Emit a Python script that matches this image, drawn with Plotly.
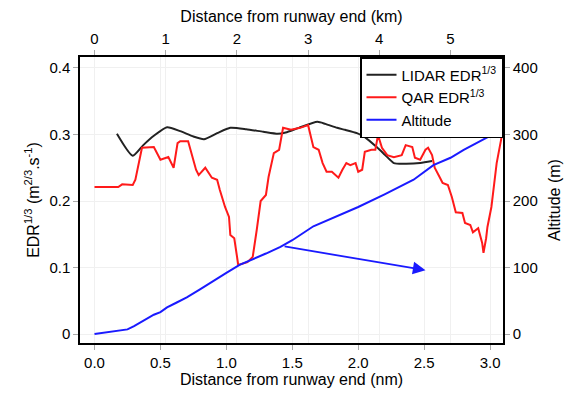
import plotly.graph_objects as go

# ---- data ----
alt_nm = [0.0, 0.1, 0.25, 0.3, 0.35, 0.4, 0.45, 0.5, 0.55, 0.62, 0.7, 0.8, 0.9, 1.0, 1.1, 1.2, 1.3, 1.41,
          1.5, 1.66, 1.8, 2.0, 2.2, 2.42, 2.57, 2.7, 2.8, 2.9, 3.0]
alt_m = [0, 3, 7, 12, 18, 24, 29, 33, 40, 47, 55, 67, 80, 92, 104, 112, 121, 131,
         141, 162, 174, 191, 210, 232, 254, 265, 277, 288, 298]

lidar_nm = [0.17, 0.29, 0.37, 0.45, 0.55, 0.65, 0.75, 0.83, 0.93, 1.03, 1.15, 1.28, 1.39, 1.45, 1.55,
            1.69, 1.75, 1.84, 1.9, 1.99, 2.05, 2.14, 2.2, 2.27, 2.35, 2.47, 2.56]
lidar_edr = [0.301, 0.268, 0.284, 0.298, 0.311, 0.305, 0.297, 0.293, 0.302, 0.310, 0.308, 0.304, 0.301, 0.303, 0.310,
             0.319, 0.316, 0.310, 0.307, 0.302, 0.296, 0.281, 0.270, 0.257, 0.256, 0.257, 0.260]

qar_nm = [0.0, 0.18, 0.21, 0.29, 0.31, 0.36, 0.45, 0.5, 0.56, 0.6, 0.63, 0.65, 0.71, 0.77, 0.79,
          0.84, 0.89, 0.93, 0.95, 0.99, 1.02, 1.03, 1.06, 1.09, 1.16, 1.2, 1.23, 1.26, 1.3, 1.32,
          1.36, 1.4, 1.43, 1.49, 1.56, 1.62, 1.66, 1.70, 1.73, 1.76, 1.80, 1.83, 1.85, 1.88, 1.91,
          1.94, 1.98, 2.0, 2.03, 2.05, 2.1, 2.13, 2.15, 2.18, 2.22, 2.27, 2.33, 2.36, 2.41, 2.43,
          2.47, 2.51, 2.53, 2.56, 2.58, 2.62, 2.64, 2.68, 2.71, 2.74, 2.79, 2.81, 2.85, 2.87, 2.91,
          2.94, 2.95, 2.97, 2.98, 3.01, 3.05, 3.09, 3.12]
qar_edr = [0.221, 0.221, 0.225, 0.224, 0.232, 0.280, 0.281, 0.262, 0.266, 0.250, 0.287, 0.290, 0.290, 0.247, 0.239,
           0.250, 0.235, 0.232, 0.217, 0.191, 0.176, 0.149, 0.144, 0.104, 0.108, 0.116, 0.156, 0.200, 0.209, 0.236,
           0.272, 0.277, 0.310, 0.307, 0.310, 0.314, 0.281, 0.277, 0.257, 0.244, 0.244, 0.239, 0.235, 0.247, 0.257,
           0.254, 0.257, 0.244, 0.247, 0.274, 0.277, 0.277, 0.299, 0.280, 0.269, 0.266, 0.269, 0.284, 0.281, 0.265,
           0.262, 0.277, 0.280, 0.269, 0.250, 0.235, 0.227, 0.224, 0.206, 0.183, 0.182, 0.167, 0.164, 0.153, 0.159,
           0.137, 0.122, 0.144, 0.161, 0.191, 0.257, 0.299, 0.320]

arrow_tail = [1.43, 0.132]
arrow_head = [2.51, 0.096]

nm_ticks = [0.0, 0.5, 1.0, 1.5, 2.0, 2.5, 3.0]
km_ticks = [0, 1, 2, 3, 4, 5]
edr_ticks = [0, 0.1, 0.2, 0.3, 0.4]
alt_ticks = [0, 100, 200, 300, 400]

NM_RANGE = [-0.11, 3.098]
KM_PER_NM = 1.852
EDR_RANGE = [-0.0135, 0.4165]

FONT = "Liberation Sans, Arial, sans-serif"

fig = go.Figure()
fig.add_trace(go.Scatter(x=lidar_nm, y=lidar_edr, mode="lines", name="LIDAR EDR<sup>1/3</sup>",
                         line=dict(color="#222222", width=2, shape="spline", smoothing=0.6)))
fig.add_trace(go.Scatter(x=qar_nm, y=qar_edr, mode="lines", name="QAR EDR<sup>1/3</sup>",
                         line=dict(color="#ff1a1a", width=2)))
fig.add_trace(go.Scatter(x=alt_nm, y=alt_m, mode="lines", name="Altitude", yaxis="y2",
                         line=dict(color="#1a1aff", width=2)))
# invisible trace to activate the top km axis
fig.add_trace(go.Scatter(x=[0], y=[0], xaxis="x2", mode="markers", marker=dict(opacity=0),
                         showlegend=False, hoverinfo="skip"))

tickfont = dict(family=FONT, size=15, color="black")
common = dict(showline=True, linecolor="black", linewidth=1.5, ticks="outside", tickcolor="#aaaaaa",
              ticklen=5, tickfont=tickfont, showgrid=True, gridcolor="#f0f0f0", zeroline=False)

fig.update_layout(
    width=578, height=399,
    margin=dict(l=80, r=75, t=57, b=56),
    paper_bgcolor="white", plot_bgcolor="white",
    font=dict(family=FONT, size=15, color="black"),
    xaxis=dict(range=NM_RANGE, tickvals=nm_ticks, ticktext=[f"{v:.1f}" for v in nm_ticks],
               title=dict(text="Distance from runway end (nm)", font=dict(size=16), standoff=4), **common),
    xaxis2=dict(range=[NM_RANGE[0] * KM_PER_NM, NM_RANGE[1] * KM_PER_NM], overlaying="x", side="top",
                tickvals=km_ticks, title=dict(text="Distance from runway end (km)", font=dict(size=16), standoff=4),
                **common),
    yaxis=dict(range=EDR_RANGE, tickvals=edr_ticks, ticktext=["0", "0.1", "0.2", "0.3", "0.4"],
               title=dict(text="EDR<sup>1/3</sup> (m<sup>2/3</sup>.s<sup>-1</sup>)", font=dict(size=16), standoff=6),
               **common),
    yaxis2=dict(range=[EDR_RANGE[0] * 1000, EDR_RANGE[1] * 1000], overlaying="y", side="right",
                tickvals=alt_ticks, title=dict(text="Altitude (m)", font=dict(size=16), standoff=12),
                **common),
    legend=dict(x=1, y=1, xanchor="right", yanchor="top", bgcolor="white", bordercolor="black",
                borderwidth=1.5, font=dict(family=FONT, size=15), tracegroupgap=0,
                itemwidth=30),
    showlegend=True,
)

fig.add_annotation(x=arrow_head[0], y=arrow_head[1], ax=arrow_tail[0], ay=arrow_tail[1],
                   xref="x", yref="y", axref="x", ayref="y", showarrow=True, text="",
                   arrowhead=2, arrowsize=1.4, arrowwidth=1.8, arrowcolor="#1a1aff")

fig.write_html("out.html")
